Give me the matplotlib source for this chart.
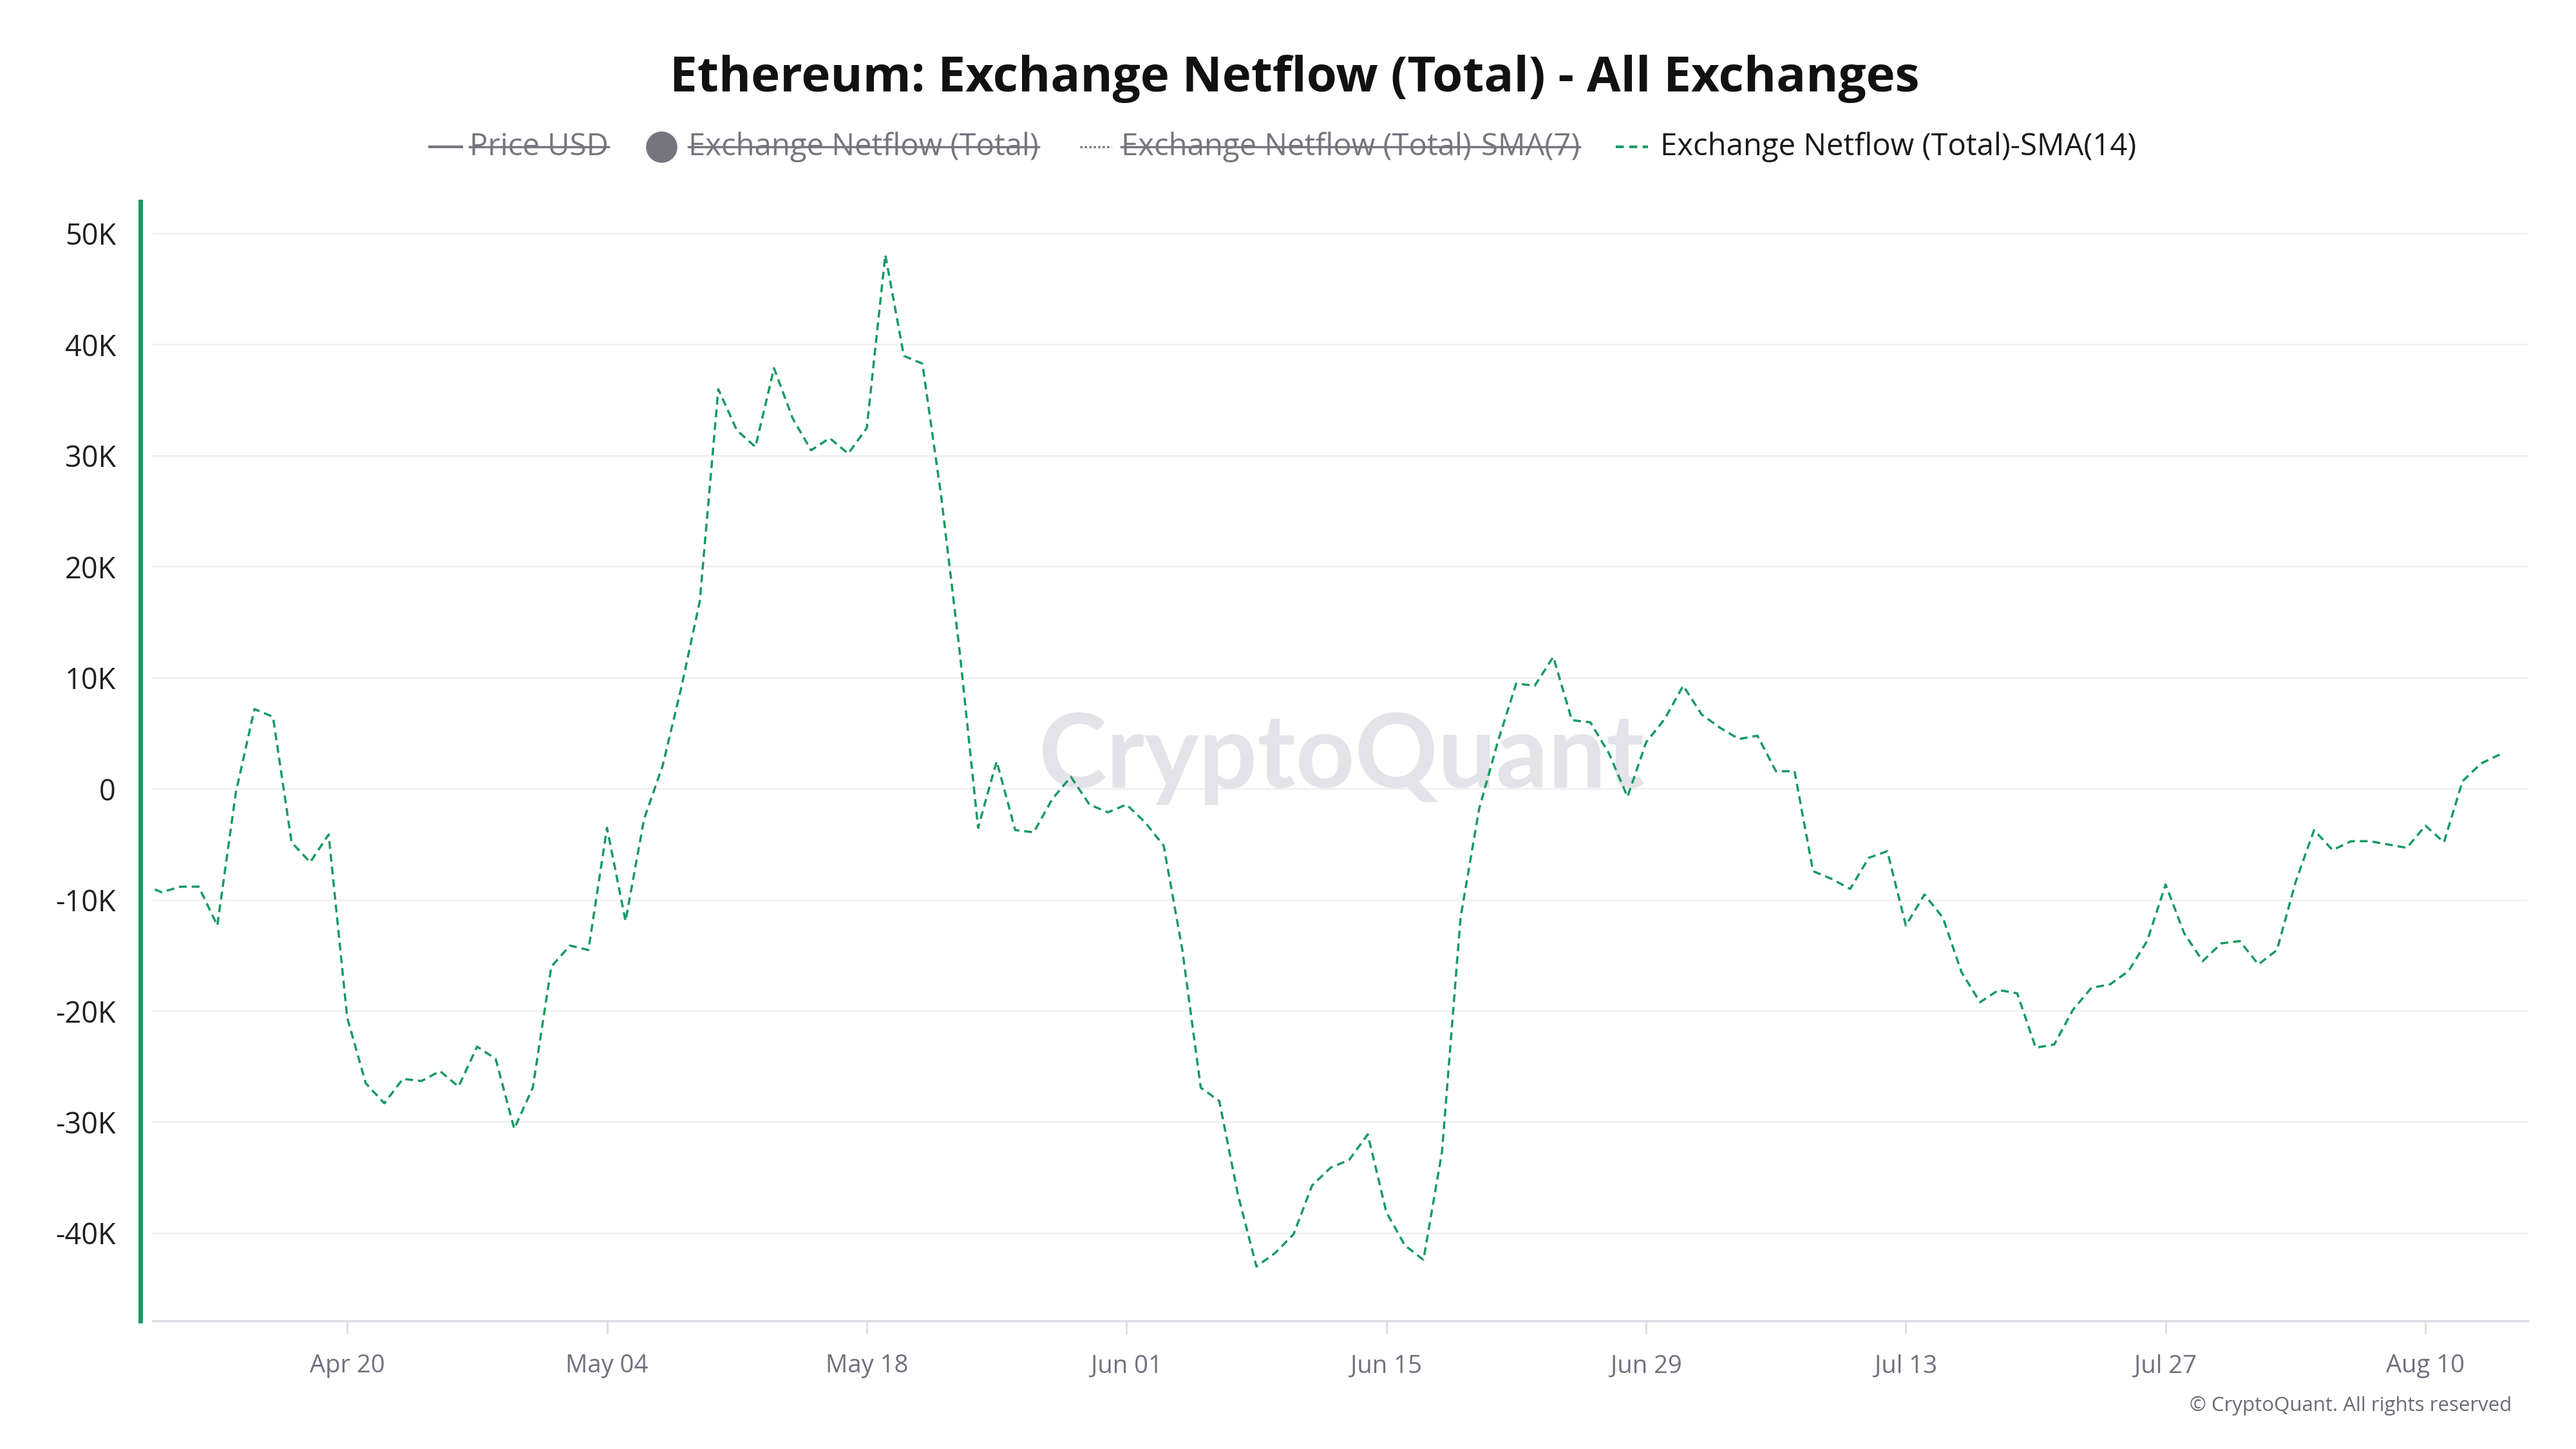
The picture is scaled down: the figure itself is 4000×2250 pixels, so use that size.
import pandas as pd
import matplotlib
matplotlib.use('Agg')
import matplotlib.pyplot as plt
import matplotlib.dates as mdates
from matplotlib.lines import Line2D
from matplotlib.ticker import FuncFormatter

# 폰트 설정
plt.rcParams['font.family'] = ['Open Sans', 'DejaVu Sans']

# 1. 데이터 (Exchange Netflow (Total)-SMA(14), 단위: 천 ETH)
start_date = '2020-04-09'
sma14_k = [
    -8.6, -9.3, -8.8, -8.8, -12.3, -0.3, 7.2, 6.5, -4.8, -6.6, -4.1,
    -20.6, -26.5, -28.3, -26.1, -26.3, -25.4, -26.8, -23.2, -24.3, -30.6, -26.9,
    # May
    -16.0, -14.1, -14.5, -3.5, -11.9, -2.7, 2.1, 9.1, 16.9, 36.0,
    32.3, 30.8, 37.9, 33.4, 30.5, 31.6, 30.2, 32.5, 48.1, 39.0,
    38.3, 26.5, 12.5, -3.5, 2.5, -3.7, -3.9, -0.9, 1.1, -1.4, -2.1,
    # Jun
    -1.4, -3.0, -5.1, -14.4, -26.9, -28.1, -36.5, -43.0, -41.8, -40.1,
    -35.7, -34.1, -33.4, -31.1, -38.1, -41.1, -42.4, -32.7, -11.6, -1.8,
    4.2, 9.5, 9.3, 11.9, 6.2, 6.0, 3.2, -0.7, 4.2, 6.3,
    # Jul
    9.3, 6.7, 5.5, 4.5, 4.8, 1.6, 1.6, -7.4, -8.1, -9.0,
    -6.2, -5.6, -12.3, -9.5, -11.6, -16.5, -19.2, -18.1, -18.4, -23.3,
    -23.0, -19.9, -17.9, -17.6, -16.4, -13.7, -8.6, -13.0, -15.5, -13.9, -13.7,
    # Aug
    -15.8, -14.5, -8.4, -3.7, -5.5, -4.7, -4.7, -5.0, -5.3, -3.3,
    -4.8, 0.7, 2.3, 3.1,
]
dates = pd.date_range(start_date, periods=len(sma14_k), freq='D')
sma14 = [v * 1000 for v in sma14_k]

tick_dates = pd.date_range('2020-04-20', '2020-08-10', freq='14D')
tick_labels = [d.strftime('%b %d') for d in tick_dates]
y_ticks = [-40000, -30000, -20000, -10000, 0, 10000, 20000, 30000, 40000, 50000]

legend_labels = ['Price USD', 'Exchange Netflow (Total)',
                 'Exchange Netflow (Total)-SMA(7)', 'Exchange Netflow (Total)-SMA(14)']

green = '#169a62'
muted = '#76757f'

# 2. 그림
fig = plt.figure(figsize=(16, 9), dpi=250)
ax = fig.add_axes([0.0593, 0.0884, 0.9220, 0.7725])

ax.plot(dates, sma14, color=green, lw=1.0, ls=(0, (3.5, 2.2)), zorder=3)

x0 = mdates.date2num(dates[0]) + 0.52
ax.set_xlim(x0, x0 + 128.0)
ax.set_ylim(-47900, 52900)

ax.set_yticks(y_ticks)
ax.yaxis.set_major_formatter(FuncFormatter(lambda v, p: '0' if v == 0 else f'{int(v / 1000)}K'))
ax.set_xticks(tick_dates)
ax.set_xticklabels(tick_labels)

ax.spines['top'].set_visible(False)
ax.spines['right'].set_visible(False)
ax.spines['left'].set_color(green)
ax.spines['left'].set_linewidth(2.0)
ax.spines['left'].set_position(('outward', 5.5))
ax.spines['bottom'].set_color('#dcdce3')
ax.spines['bottom'].set_linewidth(1.0)

ax.tick_params(axis='y', length=0, pad=11, labelsize=13, labelcolor='#1f1f1f')
ax.tick_params(axis='x', length=5.8, width=0.8, color='#dcdce3', pad=9,
               labelsize=11, labelcolor='#707080')
ax.yaxis.grid(True, color='#efeff2', lw=0.7)
ax.set_axisbelow(True)

# 워터마크
ax.text(0.5208, 0.4564, 'CryptoQuant', transform=fig.transFigure, ha='center',
        va='baseline', fontsize=46, fontweight='bold', family='Lato',
        color='#e3e3e9', zorder=1)

# 제목
fig.text(0.5025, 0.9455, 'Ethereum: Exchange Netflow (Total) - All Exchanges',
         ha='center', va='center', fontsize=22, fontweight='bold', color='#111111')

# 범례 (수동)
ly = 1 - 228 / 2250
tf = fig.transFigure
fig.add_artist(Line2D([667 / 4000, 717 / 4000], [ly, ly], transform=tf, color=muted, lw=1.2))
fig.add_artist(Line2D([1027 / 4000], [ly], transform=tf, marker='o', markersize=13,
                      color=muted, ls='none'))
fig.add_artist(Line2D([1677 / 4000, 1726 / 4000], [ly, ly], transform=tf, color=muted,
                      lw=1.0, ls=(0, (1, 1))))
fig.add_artist(Line2D([2509 / 4000, 2559 / 4000], [ly, ly], transform=tf, color=green,
                      lw=1.2, ls=(0, (3, 2))))

text_x = [729, 1069, 1741, 2578]
leg_texts = []
for i, (lab, tx) in enumerate(zip(legend_labels, text_x)):
    c = muted if i < 3 else '#1a1a1a'
    leg_texts.append(fig.text(tx / 4000, ly, lab, ha='left', va='center',
                              fontsize=13.6, color=c))

fig.canvas.draw()
inv = fig.transFigure.inverted()
for t in leg_texts[:3]:
    bb = t.get_window_extent().transformed(inv)
    sy = bb.y0 + 0.5 * bb.height
    fig.add_artist(Line2D([bb.x0, bb.x1], [sy, sy], transform=tf, color=muted, lw=1.0))

# 저작권
fig.text(3900 / 4000, 1 - 2183 / 2250, '© CryptoQuant. All rights reserved',
         ha='right', va='center', fontsize=9, color='#6b6b78')

fig.savefig('out.png', dpi=250)
